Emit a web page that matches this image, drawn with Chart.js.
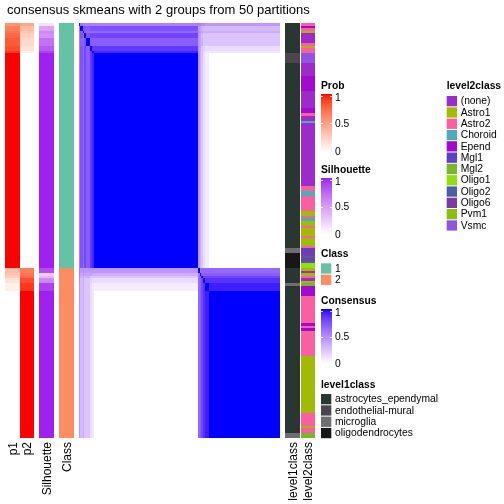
<!DOCTYPE html>
<html>
<head>
<meta charset="utf-8">
<script src="https://cdn.jsdelivr.net/npm/chart.js@4"></script>
<style>
  html, body { margin: 0; padding: 0; background: #fff; }
  #wrap { width: 504px; height: 504px; position: relative; }
</style>
</head>
<body>
<div id="wrap"><canvas id="chart" width="504" height="504"></canvas></div>
<script>
const chartTitle = 'consensus skmeans with 2 groups from 50 partitions';

// blocks of consecutive samples (top to bottom / left to right)
const blockSizes      = [1, 2, 1, 2, 3, 2, 1, 86, 2, 1, 1, 2, 3, 59];
const blockClass      = [1, 1, 1, 1, 1, 1, 1, 1, 2, 2, 2, 2, 2, 2];
const blockP1         = [0.55, 0.65, 0.7, 0.75, 0.8, 0.85, 0.92, 1, 0.35, 0.3, 0.25, 0.15, 0.08, 0];
const blockSilhouette = [0.15, 0.45, 0.6, 0.55, 0.7, 0.8, 0.9, 1, 0.85, 0.25, 0.35, 0.6, 0.9, 1];

// consensus between blocks
const consensus = [
  [1.0, 0.6, 0.55, 0.55, 0.55, 0.55, 0.55, 0.55,  0.55, 0.55, 0.5, 0.5, 0.45, 0.45],
  [0.6, 1.0, 0.7, 0.75, 0.7, 0.75, 0.75, 0.75,    0.45, 0.4, 0.35, 0.3, 0.3, 0.3],
  [0.55, 0.7, 1.0, 0.65, 0.65, 0.65, 0.65, 0.65,  0.5, 0.45, 0.4, 0.35, 0.35, 0.35],
  [0.55, 0.75, 0.65, 1.0, 0.75, 0.8, 0.8, 0.8,    0.45, 0.4, 0.3, 0.25, 0.25, 0.25],
  [0.55, 0.7, 0.65, 0.75, 1.0, 0.7, 0.7, 0.7,     0.45, 0.4, 0.35, 0.25, 0.25, 0.25],
  [0.55, 0.75, 0.65, 0.8, 0.7, 1.0, 0.85, 0.85,   0.45, 0.4, 0.25, 0.2, 0.15, 0.15],
  [0.55, 0.75, 0.65, 0.8, 0.7, 0.85, 1.0, 0.92,   0.45, 0.35, 0.25, 0.15, 0.1, 0.1],
  [0.55, 0.75, 0.65, 0.8, 0.7, 0.85, 0.92, 1.0,   0.45, 0.35, 0.25, 0.15, 0.08, 0],
  [0.55, 0.45, 0.5, 0.45, 0.45, 0.45, 0.45, 0.45, 1.0, 0.6, 0.65, 0.65, 0.65, 0.65],
  [0.55, 0.4, 0.45, 0.4, 0.4, 0.4, 0.35, 0.35,    0.6, 1.0, 0.7, 0.7, 0.7, 0.7],
  [0.5, 0.35, 0.4, 0.3, 0.35, 0.25, 0.25, 0.25,   0.65, 0.7, 1.0, 0.8, 0.8, 0.8],
  [0.5, 0.3, 0.35, 0.25, 0.25, 0.2, 0.15, 0.15,   0.65, 0.7, 0.8, 1.0, 0.88, 0.88],
  [0.45, 0.3, 0.35, 0.25, 0.25, 0.15, 0.1, 0.08,  0.65, 0.7, 0.8, 0.88, 1.0, 0.94],
  [0.45, 0.3, 0.35, 0.25, 0.25, 0.15, 0.1, 0,     0.65, 0.7, 0.8, 0.88, 0.94, 1.0]
];

const classNames  = ['1', '2'];
const classColors = ['#66C2A5', '#FC8D62'];

const level1Names  = ['astrocytes_ependymal', 'endothelial-mural', 'microglia', 'oligodendrocytes'];
const level1Colors = ['#2A3632', '#4C464C', '#6E6E70', '#171717'];
const level1Runs = [
  ['astrocytes_ependymal', 12], ['endothelial-mural', 4], ['astrocytes_ependymal', 74],
  ['microglia', 2], ['oligodendrocytes', 6], ['astrocytes_ependymal', 6], ['microglia', 1],
  ['astrocytes_ependymal', 59], ['microglia', 2]
];

const level2Names  = ['(none)', 'Astro1', 'Astro2', 'Choroid', 'Epend', 'Mgl1', 'Mgl2', 'Oligo1', 'Oligo2', 'Oligo6', 'Pvm1', 'Vsmc'];
const level2Colors = ['#9D2BCB', '#A1BA04', '#FB5F9F', '#4AADB9', '#A00BCF', '#5E40C4', '#7AB52C', '#92DE12', '#4B5FA6', '#7B3AA4', '#8FBD0E', '#9055E0'];
const level2Runs = [
  ['Astro2', 1], ['Epend', 1], ['Astro2', 1], ['Astro1', 1], ['(none)', 4], ['Astro2', 1],
  ['Astro1', 1], ['Astro2', 2], ['Vsmc', 4], ['(none)', 5], ['Epend', 6], ['(none)', 7],
  ['Epend', 2], ['Astro2', 1], ['(none)', 2], ['Choroid', 1], ['(none)', 25], ['Astro2', 2],
  ['Choroid', 2], ['Astro2', 6], ['Astro1', 2], ['Astro2', 1], ['Choroid', 1], ['Astro1', 2],
  ['Astro2', 1], ['Astro1', 3], ['Astro2', 1], ['Astro1', 3], ['Astro2', 1], ['Mgl1', 2],
  ['Oligo6', 1], ['Oligo2', 1], ['Oligo6', 1], ['Oligo2', 1], ['Oligo1', 2], ['Astro1', 1],
  ['(none)', 1], ['Astro1', 1], ['Astro2', 1], ['(none)', 1], ['Astro1', 1], ['Mgl2', 1],
  ['Epend', 4], ['Astro2', 11], ['Epend', 1], ['Astro2', 1], ['Epend', 1], ['Astro2', 10],
  ['Astro1', 23], ['Astro2', 5], ['Astro1', 1], ['Astro2', 2], ['Mgl2', 2]
];

const legendTicks = [0, 0.5, 1];
const trackLabels = ['p1', 'p2', 'Silhouette', 'Class', 'level1class', 'level2class'];

// ---- derived ----
const N = blockSizes.reduce((a, b) => a + b, 0);
const blockStart = [];
blockSizes.reduce((s, n, i) => { blockStart[i] = s; return s + n; }, 0);
const sampleBlock = [];
blockSizes.forEach((n, b) => { for (let k = 0; k < n; k++) sampleBlock.push(b); });

// layout of the tracks in x-scale units
const tracks = {
  p1: [0, 15], p2: [15, 29], sil: [34, 49], cls: [54, 69],
  hm: [74, 275], l1: [280, 295], l2: [296, 310]
};

// LAB colour ramps (like colorRamp2)
function toLin(c) { c /= 255; return c <= 0.04045 ? c / 12.92 : Math.pow((c + 0.055) / 1.055, 2.4); }
function toSrgb(c) {
  const v = c <= 0.0031308 ? 12.92 * c : 1.055 * Math.pow(c, 1 / 2.4) - 0.055;
  return Math.round(Math.max(0, Math.min(1, v)) * 255);
}
function hexToRgb(h) { return [1, 3, 5].map(i => parseInt(h.substr(i, 2), 16)); }
function rgbToLab(rgb) {
  const [R, G, B] = rgb.map(toLin);
  const X = (0.4124 * R + 0.3576 * G + 0.1805 * B) / 0.95047;
  const Y = 0.2126 * R + 0.7152 * G + 0.0722 * B;
  const Z = (0.0193 * R + 0.1192 * G + 0.9505 * B) / 1.08883;
  const f = t => t > 0.008856 ? Math.cbrt(t) : 7.787 * t + 16 / 116;
  const fx = f(X), fy = f(Y), fz = f(Z);
  return [116 * fy - 16, 500 * (fx - fy), 200 * (fy - fz)];
}
function labToRgb([L, a, b]) {
  const fy = (L + 16) / 116, fx = fy + a / 500, fz = fy - b / 200;
  const g = t => t > 0.206893 ? t * t * t : (t - 16 / 116) / 7.787;
  const X = g(fx) * 0.95047, Y = g(fy), Z = g(fz) * 1.08883;
  const R = 3.2406 * X - 1.5372 * Y - 0.4986 * Z;
  const G = -0.9689 * X + 1.8758 * Y + 0.0415 * Z;
  const B = 0.0557 * X - 0.2040 * Y + 1.0570 * Z;
  return 'rgb(' + toSrgb(R) + ',' + toSrgb(G) + ',' + toSrgb(B) + ')';
}
function ramp(hi) {
  const a = rgbToLab([255, 255, 255]), b = rgbToLab(hexToRgb(hi));
  return v => labToRgb(a.map((x, i) => x + (b[i] - x) * v));
}
const probColor = ramp('#FF0000');
const silColor = ramp('#A020F0');
const consColor = ramp('#0000FF');

const FONT = '"Liberation Sans", Arial, Helvetica, sans-serif';

const heatmapPlugin = {
  id: 'heatmap',
  afterDraw(chart) {
    const ctx = chart.ctx;
    const xs = chart.scales.x, ys = chart.scales.y;
    const px = v => Math.round(xs.getPixelForValue(v));
    const py = v => Math.round(ys.getPixelForValue(v));
    const rect = (track, r0, r1, color) => {
      const x0 = px(track[0]), x1 = px(track[1]);
      const y0 = py(r0), y1 = py(r1);
      ctx.fillStyle = color;
      ctx.fillRect(x0, y0, x1 - x0, y1 - y0);
    };
    const hmX = j => px(tracks.hm[0] + j * (tracks.hm[1] - tracks.hm[0]) / N);

    ctx.save();
    // annotation tracks per block
    blockSizes.forEach((n, b) => {
      const r0 = blockStart[b], r1 = r0 + n;
      rect(tracks.p1, r0, r1, probColor(blockP1[b]));
      rect(tracks.p2, r0, r1, probColor(1 - blockP1[b]));
      rect(tracks.sil, r0, r1, silColor(blockSilhouette[b]));
      rect(tracks.cls, r0, r1, classColors[blockClass[b] - 1]);
    });
    // level1 / level2 runs
    let s = 0;
    level1Runs.forEach(([name, n]) => {
      rect(tracks.l1, s, s + n, level1Colors[level1Names.indexOf(name)]);
      s += n;
    });
    s = 0;
    level2Runs.forEach(([name, n]) => {
      rect(tracks.l2, s, s + n, level2Colors[level2Names.indexOf(name)]);
      s += n;
    });

    // consensus heatmap
    blockSizes.forEach((nr, r) => {
      blockSizes.forEach((nc, c) => {
        const x0 = hmX(blockStart[c]), x1 = hmX(blockStart[c] + nc);
        const y0 = py(blockStart[r]), y1 = py(blockStart[r] + nr);
        ctx.fillStyle = consColor(consensus[r][c]);
        ctx.fillRect(x0, y0, x1 - x0, y1 - y0);
      });
    });
    // diagonal drawn darker where it stands out
    const val = (i, j) => consensus[sampleBlock[i]][sampleBlock[j]];
    for (let i = 0; i < N; i++) {
      const left = i > 0 ? val(i, i - 1) : 1;
      const right = i < N - 1 ? val(i, i + 1) : 1;
      if (left < 1 || right < 1) {
        ctx.fillStyle = '#1616A8';
        const x0 = hmX(i), x1 = hmX(i + 1), y0 = py(i), y1 = py(i + 1);
        ctx.fillRect(x0, y0, Math.max(1, x1 - x0), y1 - y0);
      }
    }

    // title
    ctx.fillStyle = '#000';
    ctx.font = '13px ' + FONT;
    ctx.textAlign = 'left';
    ctx.textBaseline = 'alphabetic';
    ctx.fillText(chartTitle, 7, 14);

    // rotated track labels under the heatmap
    const labelTracks = [tracks.p1, tracks.p2, tracks.sil, tracks.cls, tracks.l1, tracks.l2];
    ctx.font = '12px ' + FONT;
    labelTracks.forEach((t, k) => {
      ctx.save();
      ctx.translate(xs.getPixelForValue((t[0] + t[1]) / 2) + 1, chart.chartArea.bottom + 4);
      ctx.rotate(-Math.PI / 2);
      ctx.textAlign = 'right';
      ctx.textBaseline = 'middle';
      ctx.fillText(trackLabels[k], 0, 0);
      ctx.restore();
    });

    // legends
    const LX = 321, SW = 11;
    const title = (txt, x, y) => {
      ctx.font = 'bold 10.3px ' + FONT;
      ctx.textAlign = 'left';
      ctx.textBaseline = 'middle';
      ctx.fillStyle = '#000';
      ctx.fillText(txt, x, y);
    };
    const gradient = (txt, ty, top, bottom, colorFn) => {
      title(txt, LX, ty);
      const steps = bottom - top;
      for (let k = 0; k < steps; k++) {
        ctx.fillStyle = colorFn(1 - k / (steps - 1));
        ctx.fillRect(LX, top + k, SW, 1);
      }
      ctx.strokeStyle = 'rgba(255,255,255,0.8)';
      ctx.lineWidth = 1;
      [top + 2.5, Math.round((top + bottom) / 2) + 0.5].forEach(y => {
        ctx.beginPath();
        ctx.moveTo(LX, y); ctx.lineTo(LX + 2, y);
        ctx.moveTo(LX + SW - 2, y); ctx.lineTo(LX + SW, y);
        ctx.stroke();
      });
      ctx.font = '10.3px ' + FONT;
      ctx.fillStyle = '#000';
      ctx.textBaseline = 'middle';
      legendTicks.forEach(t => {
        let y = bottom - t * (bottom - top);
        if (t === 1) y += 4;
        if (t === 0.5) y += 1;
        ctx.fillText(String(t), LX + 14, y);
      });
    };
    const discrete = (txt, ty, x, top, names, colors) => {
      title(txt, x, ty);
      ctx.font = '10.3px ' + FONT;
      names.forEach((nm, k) => {
        const y = top + k * 11.3;
        ctx.fillStyle = colors[k];
        ctx.fillRect(x, y, 10.3, 10.3);
        ctx.fillStyle = '#000';
        ctx.textBaseline = 'middle';
        ctx.fillText(nm, x + 14, y + 5.5);
      });
    };

    gradient('Prob', 86, 94, 152, probColor);
    gradient('Silhouette', 170.5, 178, 235, silColor);
    discrete('Class', 254.5, LX, 263.3, classNames, classColors);
    gradient('Consensus', 301, 309, 364, consColor);
    discrete('level1class', 385, LX, 394, level1Names, level1Colors);
    discrete('level2class', 86, 446.7, 96, level2Names, level2Colors);
    ctx.restore();
  }
};

new Chart(document.getElementById('chart'), {
  type: 'scatter',
  data: { datasets: [] },
  options: {
    responsive: false,
    animation: false,
    layout: { padding: { left: 5, top: 23, right: 189, bottom: 66 } },
    plugins: { legend: { display: false }, tooltip: { enabled: false }, title: { display: false } },
    scales: {
      x: { type: 'linear', min: 0, max: 310, display: false },
      y: { type: 'linear', min: 0, max: N, reverse: true, display: false }
    }
  },
  plugins: [heatmapPlugin]
});
</script>
</body>
</html>
